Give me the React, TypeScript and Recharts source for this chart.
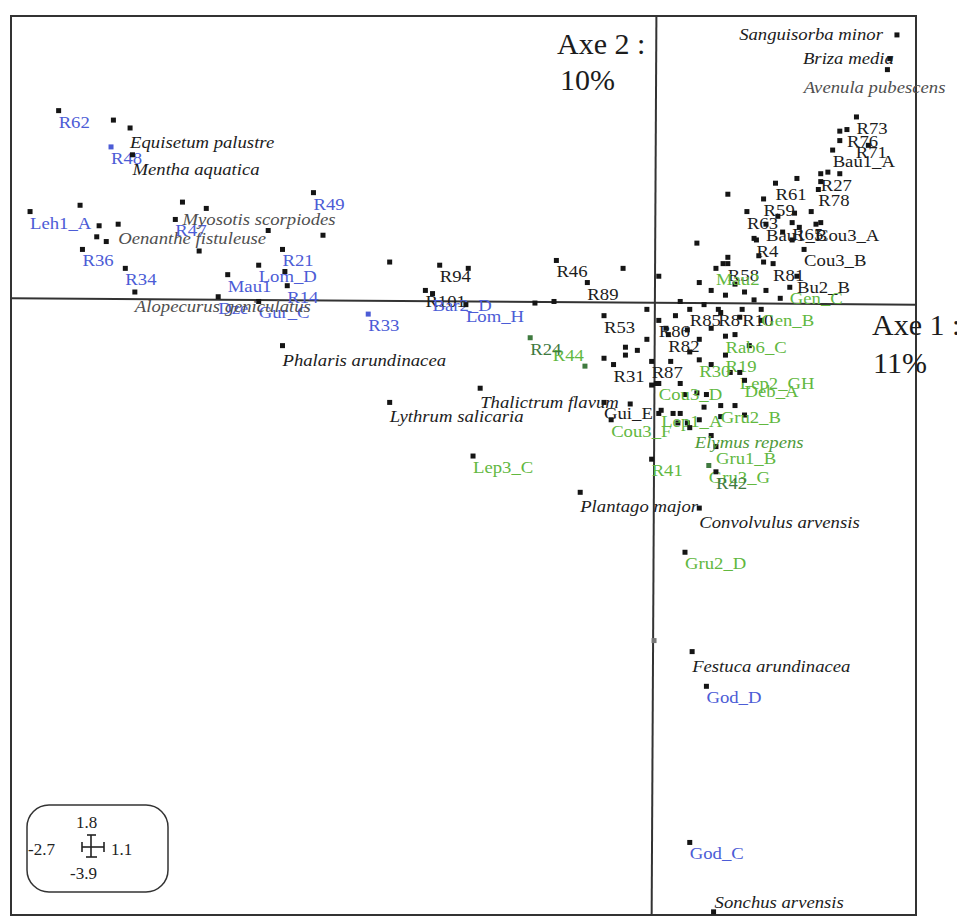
import React from "react";
import {
  ScatterChart,
  Scatter,
  XAxis,
  YAxis,
  ReferenceArea,
  ReferenceLine,
} from "recharts";

type Pt = { name: string; x: number; y: number };

// sites labelled in blue
const blueSites: Pt[] = [
  { name: "R62", x: -2.5, y: 1.2 },
  { name: "R48", x: -2.28, y: 0.97 },
  { name: "Leh1_A", x: -2.62, y: 0.56 },
  { name: "R47", x: -2.01, y: 0.51 },
  { name: "R49", x: -1.43, y: 0.68 },
  { name: "R36", x: -2.4, y: 0.32 },
  { name: "R34", x: -2.22, y: 0.2 },
  { name: "R21", x: -1.56, y: 0.32 },
  { name: "Lom_D", x: -1.66, y: 0.22 },
  { name: "Mau1", x: -1.79, y: 0.16 },
  { name: "R14", x: -1.54, y: 0.09 },
  { name: "Dze", x: -1.83, y: 0.02 },
  { name: "Gur_C", x: -1.66, y: -0.01 },
  { name: "R33", x: -1.2, y: -0.09 },
  { name: "Bar2_D", x: -0.93, y: 0.04 },
  { name: "Lom_H", x: -0.79, y: -0.03 },
  { name: "God_D", x: 0.22, y: -2.45 },
  { name: "God_C", x: 0.15, y: -3.44 },
];

// sites labelled in black
const blackSites: Pt[] = [
  { name: "R94", x: -0.9, y: 0.22 },
  { name: "R101", x: -0.96, y: 0.06 },
  { name: "R46", x: -0.41, y: 0.25 },
  { name: "R89", x: -0.28, y: 0.11 },
  { name: "R53", x: -0.21, y: -0.1 },
  { name: "R31", x: -0.17, y: -0.41 },
  { name: "Gui_E", x: -0.21, y: -0.65 },
  { name: "R87", x: -0.01, y: -0.39 },
  { name: "R73", x: 0.85, y: 1.16 },
  { name: "R76", x: 0.81, y: 1.08 },
  { name: "R71", x: 0.78, y: 1.01 },
  { name: "Bau1_A", x: 0.75, y: 0.95 },
  { name: "R27", x: 0.7, y: 0.8 },
  { name: "R78", x: 0.69, y: 0.7 },
  { name: "R61", x: 0.51, y: 0.74 },
  { name: "R59", x: 0.46, y: 0.64 },
  { name: "R63", x: 0.39, y: 0.56 },
  { name: "Bau1_B", x: 0.47, y: 0.48 },
  { name: "R65", x: 0.58, y: 0.49 },
  { name: "Cou3_A", x: 0.68, y: 0.48 },
  { name: "R4", x: 0.43, y: 0.38 },
  { name: "Cou3_B", x: 0.63, y: 0.32 },
  { name: "R58", x: 0.31, y: 0.23 },
  { name: "R81", x: 0.5, y: 0.23 },
  { name: "Bu2_B", x: 0.6, y: 0.15 },
  { name: "R8", x: 0.27, y: -0.06 },
  { name: "R10", x: 0.37, y: -0.06 },
  { name: "R86", x: 0.02, y: -0.13 },
  { name: "R82", x: 0.06, y: -0.22 },
  { name: "R85", x: 0.15, y: -0.06 },
];

// sites labelled in green
const greenSites: Pt[] = [
  { name: "R44", x: -0.29, y: -0.42 },
  { name: "Lep3_C", x: -0.76, y: -0.99 },
  { name: "Cou3_F", x: -0.18, y: -0.76 },
  { name: "R41", x: -0.01, y: -1.01 },
  { name: "Gru1_B", x: 0.26, y: -0.93 },
  { name: "Gru3_G", x: 0.23, y: -1.05 },
  { name: "Gru2_D", x: 0.13, y: -1.6 },
  { name: "R30", x: 0.19, y: -0.38 },
  { name: "R19", x: 0.3, y: -0.35 },
  { name: "Lep2_GH", x: 0.36, y: -0.46 },
  { name: "Deb_A", x: 0.38, y: -0.51 },
  { name: "Cou3_D", x: 0.02, y: -0.53 },
  { name: "Gru2_B", x: 0.28, y: -0.67 },
  { name: "Lep1_A", x: 0.03, y: -0.7 },
  { name: "Rab6_C", x: 0.3, y: -0.23 },
  { name: "Gen_B", x: 0.45, y: -0.06 },
  { name: "Gen_C", x: 0.57, y: 0.08 },
  { name: "Mau2", x: 0.26, y: 0.2 },
];

// sites labelled in dark green
const darkGreenSites: Pt[] = [
  { name: "R24", x: -0.52, y: -0.24 },
  { name: "R42", x: 0.26, y: -1.09 },
];

const blackSpecies: Pt[] = [
  { name: "Equisetum palustre", x: -2.2, y: 1.09 },
  { name: "Mentha aquatica", x: -2.19, y: 0.92 },
  { name: "Phalaris arundinacea", x: -1.56, y: -0.29 },
  { name: "Lythrum salicaria", x: -1.11, y: -0.65 },
  { name: "Thalictrum flavum", x: -0.73, y: -0.56 },
  { name: "Plantago major", x: -0.31, y: -1.22 },
  { name: "Convolvulus arvensis", x: 0.19, y: -1.32 },
  { name: "Festuca arundinacea", x: 0.16, y: -2.23 },
  { name: "Sonchus arvensis", x: 0.25, y: -3.88 },
  { name: "Sanguisorba minor", x: 1.02, y: 1.68 },
  { name: "Briza media", x: 0.99, y: 1.53 },
];

const graySpecies: Pt[] = [
  { name: "Avenula pubescens", x: 0.98, y: 1.46 },
  { name: "Myosotis scorpiodes", x: -1.98, y: 0.62 },
  { name: "Oenanthe fistuleuse", x: -2.25, y: 0.48 },
  { name: "Alopecurus geniculatus", x: -2.18, y: 0.05 },
];

const greenSpecies: Pt[] = [{ name: "Elymus repens", x: 0.15, y: -0.81 }];

// plotted points without a readable label
const unlabelled: Pt[] = [
  { name: "", x: -2.27, y: 1.14 },
  { name: "", x: -2.41, y: 0.6 },
  { name: "", x: -2.33, y: 0.47 },
  { name: "", x: -2.34, y: 0.4 },
  { name: "", x: -2.3, y: 0.37 },
  { name: "", x: -1.88, y: 0.58 },
  { name: "", x: -1.62, y: 0.44 },
  { name: "", x: -1.39, y: 0.41 },
  { name: "", x: -1.91, y: 0.31 },
  { name: "", x: -1.55, y: 0.18 },
  { name: "", x: -1.11, y: 0.24 },
  { name: "", x: -0.78, y: 0.2 },
  { name: "", x: -0.5, y: -0.02 },
  { name: "", x: -0.42, y: -0.01 },
  { name: "", x: -0.13, y: 0.2 },
  { name: "", x: -0.03, y: -0.06 },
  { name: "", x: -0.21, y: -0.37 },
  { name: "", x: -0.12, y: -0.3 },
  { name: "", x: -0.12, y: -0.35 },
  { name: "", x: -0.07, y: -0.32 },
  { name: "", x: -0.03, y: -0.25 },
  { name: "", x: -0.1, y: -0.66 },
  { name: "", x: -0.01, y: -0.54 },
  { name: "", x: 0.0, y: -2.16 },
  { name: "", x: 0.02, y: 0.15 },
  { name: "", x: 0.18, y: 0.36 },
  { name: "", x: 0.31, y: 0.67 },
  { name: "", x: 0.6, y: 0.77 },
  { name: "", x: 0.78, y: 1.07 },
  { name: "", x: 0.9, y: 0.98 },
  { name: "", x: 0.73, y: 0.81 },
  { name: "", x: 0.78, y: 0.8 },
  { name: "", x: 0.7, y: 0.75 },
  { name: "", x: 0.59, y: 0.55 },
  { name: "", x: 0.66, y: 0.56 },
  { name: "", x: 0.52, y: 0.53 },
  { name: "", x: 0.61, y: 0.46 },
  { name: "", x: 0.7, y: 0.49 },
  { name: "", x: 0.42, y: 0.39 },
  { name: "", x: 0.54, y: 0.43 },
  { name: "", x: 0.58, y: 0.38 },
  { name: "", x: 0.44, y: 0.28 },
  { name: "", x: 0.31, y: 0.27 },
  { name: "", x: 0.29, y: 0.23 },
  { name: "", x: 0.46, y: 0.24 },
  { name: "", x: 0.11, y: -0.01 },
  { name: "", x: 0.19, y: 0.11 },
  { name: "", x: 0.24, y: 0.06 },
  { name: "", x: 0.3, y: 0.03 },
  { name: "", x: 0.34, y: 0.1 },
  { name: "", x: 0.38, y: 0.05 },
  { name: "", x: 0.42, y: 0.0 },
  { name: "", x: 0.47, y: 0.06 },
  { name: "", x: 0.53, y: 0.01 },
  { name: "", x: 0.21, y: -0.03 },
  { name: "", x: 0.28, y: -0.08 },
  { name: "", x: 0.36, y: -0.11 },
  { name: "", x: 0.45, y: -0.13 },
  { name: "", x: 0.09, y: -0.1 },
  { name: "", x: 0.05, y: -0.18 },
  { name: "", x: 0.14, y: -0.19 },
  { name: "", x: 0.19, y: -0.25 },
  { name: "", x: 0.24, y: -0.18 },
  { name: "", x: 0.34, y: -0.22 },
  { name: "", x: 0.4, y: -0.29 },
  { name: "", x: 0.15, y: -0.33 },
  { name: "", x: 0.07, y: -0.39 },
  { name: "", x: 0.24, y: -0.41 },
  { name: "", x: 0.32, y: -0.46 },
  { name: "", x: 0.01, y: -0.53 },
  { name: "", x: 0.11, y: -0.53 },
  { name: "", x: 0.13, y: -0.6 },
  { name: "", x: 0.18, y: -0.59 },
  { name: "", x: 0.22, y: -0.6 },
  { name: "", x: 0.34, y: -0.67 },
  { name: "", x: 0.38, y: -0.73 },
  { name: "", x: 0.02, y: -0.72 },
  { name: "", x: 0.08, y: -0.72 },
  { name: "", x: 0.11, y: -0.72 },
  { name: "", x: 0.1, y: -0.78 },
  { name: "", x: 0.14, y: -0.78 },
  { name: "", x: 0.19, y: -0.76 },
  { name: "", x: 0.24, y: -0.86 },
  { name: "", x: 0.21, y: -0.68 },
  { name: "", x: 0.28, y: -0.74 },
];

const SERIF = '"Liberation Serif", "Times New Roman", serif';
const BLUE = "#4c5cd6";
const GREEN = "#62b83f";
const DARK_GREEN = "#3f7a3f";
const INK = "#1c1c1c";
const GRAY = "#4f4f4f";

// where a label sits compared with its point, when not the default
const labelPlacement: Record<string, { anchor?: string; dx?: number; dy?: number }> = {
  "Sanguisorba minor": { anchor: "end", dx: -14, dy: 5 },
  "Briza media": { anchor: "end", dx: 4, dy: 5 },
  "Avenula pubescens": { anchor: "end", dx: 58, dy: 23 },
  "Myosotis scorpiodes": { dy: 23 },
  "Elymus repens": { dx: 5, dy: 20 },
  "Sonchus arvensis": { dx: 1, dy: -4 },
  R44: { anchor: "end", dx: -1, dy: -5 },
  R71: { dx: 16 },
};

const markerColors: Record<string, string> = {
  R48: BLUE,
  R33: BLUE,
  R24: DARK_GREEN,
  R44: DARK_GREEN,
  Gru3_G: DARK_GREEN,
};

const pointShape = (labelColor: string, italic: boolean, baseDy: number) => (props: any) => {
  const { cx, cy, payload } = props;
  if (cx == null || cy == null) return <g />;
  const place = labelPlacement[payload.name] ?? {};
  const dx = place.dx ?? 0;
  const dy = place.dy ?? baseDy;
  const mColor = markerColors[payload.name] ?? (payload.x === 0 ? "#777" : "#151515");
  return (
    <g>
      <rect x={cx - 2.5} y={cy - 2.5} width={5} height={5} fill={mColor} />
      {payload.name ? (
        <text
          transform={`translate(${cx + dx},${cy + dy}) scale(1.1,1)`}
          textAnchor={(place.anchor as any) ?? "start"}
          fontFamily={SERIF}
          fontSize={17}
          fontStyle={italic ? "italic" : "normal"}
          fill={labelColor}
        >
          {payload.name}
        </text>
      ) : null}
    </g>
  );
};

const W = 957;
const H = 911;

export default function App() {
  return (
    <div style={{ position: "relative", width: W, height: H, background: "#fff" }}>
      <ScatterChart
        width={W}
        height={H}
        margin={{ top: 8, right: 49, bottom: 4, left: 3 }}
        style={{ overflow: "visible" }}
      >
        <XAxis type="number" dataKey="x" domain={[-2.7, 1.1]} hide />
        <YAxis type="number" dataKey="y" domain={[-3.9, 1.8]} hide />
        <ReferenceArea
          x1={-2.7}
          x2={1.1}
          y1={-3.9}
          y2={1.8}
          fill="none"
          fillOpacity={0}
          stroke="#333"
          strokeWidth={2}
        />
        <ReferenceLine
          segment={[
            { x: -2.7, y: 0.01 },
            { x: 1.1, y: -0.03 },
          ]}
          stroke="#333"
          strokeWidth={2}
        />
        <ReferenceLine
          segment={[
            { x: 0.01, y: 1.8 },
            { x: -0.01, y: -3.9 },
          ]}
          stroke="#333"
          strokeWidth={2}
        />
        <Scatter data={unlabelled} isAnimationActive={false} shape={pointShape(INK, false, 17)} />
        <Scatter data={blackSites} isAnimationActive={false} shape={pointShape(INK, false, 17)} />
        <Scatter data={greenSites} isAnimationActive={false} shape={pointShape(GREEN, false, 17)} />
        <Scatter data={darkGreenSites} isAnimationActive={false} shape={pointShape(DARK_GREEN, false, 17)} />
        <Scatter data={blueSites} isAnimationActive={false} shape={pointShape(BLUE, false, 17)} />
        <Scatter data={graySpecies} isAnimationActive={false} shape={pointShape(GRAY, true, 20)} />
        <Scatter data={greenSpecies} isAnimationActive={false} shape={pointShape("#4f9a3a", true, 20)} />
        <Scatter data={blackSpecies} isAnimationActive={false} shape={pointShape(INK, true, 20)} />
      </ScatterChart>

      {/* axis titles and the scale box */}
      <svg
        width={W}
        height={H}
        style={{ position: "absolute", left: 0, top: 0, pointerEvents: "none", overflow: "visible" }}
      >
        <g fontFamily={SERIF} fill="#1c1c1c">
          <text x={549} y={46} fontSize={30}>Axe 2 :</text>
          <text x={552} y={82} fontSize={30}>10%</text>
          <text x={864} y={327} fontSize={30}>Axe 1 :</text>
          <text x={865} y={365} fontSize={30}>11%</text>
        </g>
        <rect x={19} y={797} width={141} height={87} rx={22} fill="none" stroke="#333" strokeWidth={1.5} />
        <g fontFamily={SERIF} fontSize={17} fill="#222">
          <text x={68} y={820}>1.8</text>
          <text x={20} y={847}>-2.7</text>
          <text x={103} y={847}>1.1</text>
          <text x={62} y={871}>-3.9</text>
        </g>
        <g stroke="#222" strokeWidth={1.6}>
          <line x1={74} y1={839} x2={96} y2={839} />
          <line x1={74} y1={834} x2={74} y2={844} />
          <line x1={96} y1={834} x2={96} y2={844} />
          <line x1={83} y1={827} x2={83} y2={849} />
          <line x1={79} y1={827} x2={88} y2={827} />
          <line x1={78} y1={849} x2={89} y2={849} />
        </g>
      </svg>
    </div>
  );
}
